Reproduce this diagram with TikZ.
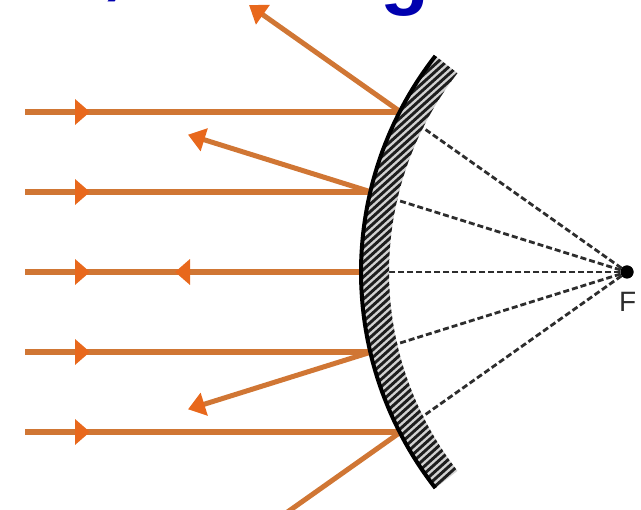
\documentclass[tikz,border=0pt]{standalone}
\usepackage{fontspec}
\setmainfont{Liberation Sans}
\usetikzlibrary{arrows.meta,decorations.markings}
\definecolor{rayc}{RGB}{208,118,52}
\definecolor{arrowc}{RGB}{232,104,28}
\definecolor{blueT}{RGB}{0,0,175}
\definecolor{dashc}{RGB}{45,45,45}
\definecolor{hatchbg}{RGB}{210,210,210}
\definecolor{hatchc}{RGB}{30,30,30}
\tikzset{
  ray/.style={draw=rayc, line width=6.5pt},
  reflray/.style={draw=rayc, line width=5pt, -{Triangle[length=17pt,width=23pt,color=arrowc]}},
  inarrow/.style={postaction={decorate}, decoration={markings,
     mark=at position 65pt with {\arrow{Triangle[length=15pt,width=25pt,color=arrowc]}}}},
  backarrow/.style={postaction={decorate}, decoration={markings,
     mark=at position 65pt with {\arrow{Triangle[length=15pt,width=25pt,color=arrowc]}},
     mark=at position 150pt with {\arrowreversed{Triangle[length=15pt,width=25pt,color=arrowc]}}}},
  dashline/.style={draw=dashc, line width=2.8pt, dash pattern=on 6pt off 3pt},
  focusdot/.style={circle, fill=black, minimum size=13pt, inner sep=0pt},
  flabel/.style={font=\fontsize{28}{28}\selectfont, text=dashc, anchor=north west, inner sep=0pt},
  bluetext/.style={font=\fontsize{80}{80}\selectfont\bfseries, text=blueT, inner sep=0pt, anchor=base},
}
\newcommand{\bandshape}{plot[domain=142:218, samples=60, variable=\t] ({712+350*cos(\t)},{272+350*sin(\t)}) -- plot[domain=218:142, samples=60, variable=\t] ({712+323*cos(\t)},{272+323*sin(\t)}) -- cycle}
\begin{document}
\begin{tikzpicture}[x=1pt,y=-1pt]
\useasboundingbox (0,0) rectangle (641,510);
\clip (0,0) rectangle (641,510);
% points
\node[focusdot] (F) at (627,272) {};
\coordinate (S1) at (25,112);
\coordinate (S2) at (25,192);
\coordinate (S3) at (25,272);
\coordinate (S4) at (25,352);
\coordinate (S5) at (25,432);
\coordinate (P1) at (400.7,112);
\coordinate (P2) at (371.3,192);
\coordinate (P3) at (362,272);
\coordinate (P4) at (371.3,352);
\coordinate (P5) at (400.7,432);
\coordinate (R1) at (249,5);
\coordinate (R2) at (188,134.7);
\coordinate (R4) at (188,409.3);
\coordinate (R5) at (247.9,540);
% dashed construction lines
\foreach \p in {P1,P2,P3,P4,P5} \draw[dashline] (F) -- (\p);
% incident rays
\draw[ray, inarrow] (S1) -- (P1);
\draw[ray, inarrow] (S2) -- (P2);
\draw[ray, backarrow] (S3) -- (P3);
\draw[ray, inarrow] (S4) -- (P4);
\draw[ray, inarrow] (S5) -- (P5);
% reflected rays
\draw[reflray] (P1) -- (R1);
\draw[reflray] (P2) -- (R2);
\draw[reflray] (P4) -- (R4);
\draw[reflray] (P5) -- (R5);
% mirror
\fill[hatchbg] \bandshape;
\begin{scope}
  \clip \bandshape;
  \begin{scope}[shift={(410,272)}, rotate=42]
    \foreach \k in {-50,...,50} \draw[hatchc, line width=2.9pt] (-300,\k*5.5) -- (300,\k*5.5);
  \end{scope}
\end{scope}
\draw[black, line width=4pt] plot[domain=142:218, samples=60, variable=\t] ({712+351*cos(\t)},{272+351*sin(\t)});
\node[focusdot] at (F) {};
\node[flabel] (Flab) at (619,292) {F};
% cut-off title fragments
\node[bluetext] (t1) at (114,-10) {,};
\node[bluetext] (t2) at (405,0) {g};
\end{tikzpicture}
\end{document}
